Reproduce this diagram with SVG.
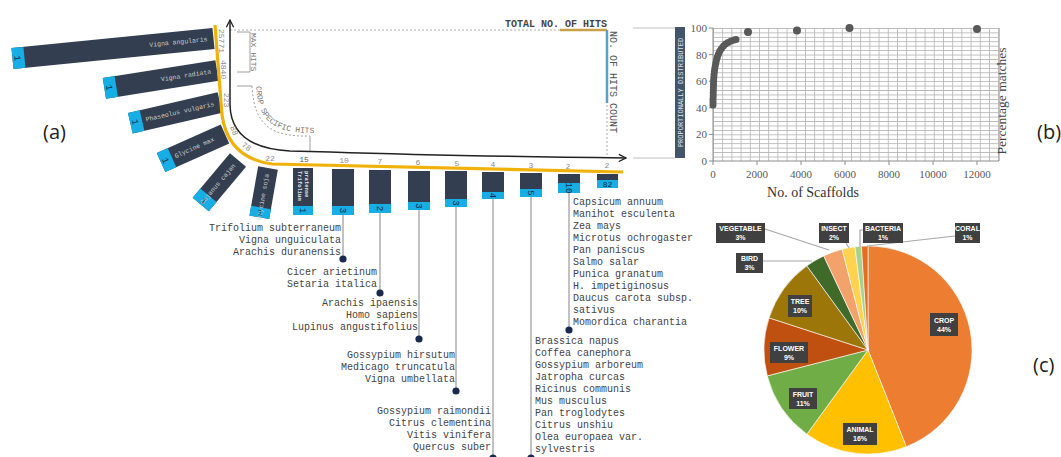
<svg xmlns="http://www.w3.org/2000/svg" width="1061" height="457" viewBox="0 0 1061 457">
<style>
.bar{fill:#333f50}
.cap{fill:#17aee6}
.bt{font-family:"Liberation Mono",monospace;font-size:6.5px;fill:#c9c9c9}
.ct{font-family:"Liberation Mono",monospace;font-size:9px;fill:#1b2a44;text-anchor:middle}
.num{font-family:"Liberation Mono",monospace;font-size:8px;fill:#8a8a8a;text-anchor:middle}
.sp{font-family:"Liberation Mono",monospace;font-size:10px;fill:#444}
.spr{font-family:"Liberation Mono",monospace;font-size:10px;fill:#444;text-anchor:end}
.lbl{font-family:"Liberation Mono",monospace;font-size:8px;fill:#777}
.lead{stroke:#9a9a9a;stroke-width:1.2;fill:none}
.dot{fill:#1a2a4f}
.ax{font-family:"Liberation Serif",serif;font-size:11px;fill:#595959}
.pt{fill:#595959}
.pl{fill:#404040}
.plt{font-family:"Liberation Sans",sans-serif;font-size:7px;font-weight:bold;fill:#fff;text-anchor:middle}
.pan{font-family:"Open Sans","Liberation Sans",sans-serif;font-size:20px;fill:#222}
.plead{stroke:#a6a6a6;stroke-width:1.2;fill:none}
</style>
<defs>
<marker id="arr" viewBox="0 0 10 10" refX="9" refY="5" markerWidth="9" markerHeight="9" markerUnits="userSpaceOnUse" orient="auto-start-reverse">
<path d="M1,1 L9,5 L1,9" fill="none" stroke="#222" stroke-width="1.4"/>
</marker>
<pattern id="grid" patternUnits="userSpaceOnUse" x="713" y="28" width="9.2" height="4.433">
<rect width="9.2" height="4.433" fill="#fff"/>
<path d="M0,0 H9.2 M0,0 V4.433" stroke="#b8b8b8" stroke-width="1.7"/>
</pattern>
<path id="cropPath" d="M256,86 C258,122 274,133 314,133"/>
</defs>
<rect width="1061" height="457" fill="#fff"/>

<!-- panel labels -->
<text class="pan" x="43" y="139">(a)</text>
<text class="pan" x="1037" y="139">(b)</text>
<text class="pan" x="1033" y="372">(c)</text>

<!-- fan bars -->
<g id="bar-vigna-angularis" transform="translate(213.5,38.5) rotate(-5.7)">
<rect class="bar" x="-202" y="-10.5" width="202" height="21"/>
<rect class="cap" x="-202" y="-10.5" width="12" height="21"/>
<text class="ct" transform="translate(-197,0) rotate(90)" y="3">1</text>
<text class="bt" x="-6" y="2" text-anchor="end">Vigna angularis</text>
</g>
<g id="bar-vigna-radiata" transform="translate(217,70.5) rotate(-9)">
<rect class="bar" x="-114" y="-10.5" width="114" height="21"/>
<rect class="cap" x="-114" y="-10.5" width="12" height="21"/>
<text class="ct" transform="translate(-109,0) rotate(90)" y="3">1</text>
<text class="bt" x="-6" y="2" text-anchor="end">Vigna radiata</text>
</g>
<g id="bar-phaseolus" transform="translate(220,102.5) rotate(-13)">
<rect class="bar" x="-92" y="-10.5" width="92" height="21"/>
<rect class="cap" x="-92" y="-10.5" width="12" height="21"/>
<text class="ct" transform="translate(-87,0) rotate(90)" y="3">1</text>
<text class="bt" x="-6" y="2" text-anchor="end">Phaseolus vulgaris</text>
</g>
<g id="bar-glycine-max" transform="translate(225,134) rotate(-24)">
<rect class="bar" x="-70" y="-10.5" width="70" height="21"/>
<rect class="cap" x="-70" y="-10.5" width="12" height="21"/>
<text class="ct" transform="translate(-65,0) rotate(90)" y="3">1</text>
<text class="bt" x="-12" y="2" text-anchor="end">Glycine max</text>
</g>
<g id="bar-cajanus" transform="translate(238,160) rotate(-50)">
<rect class="bar" x="-58" y="-10.5" width="58" height="21"/>
<rect class="cap" x="-58" y="-10.5" width="12" height="21"/>
<text class="ct" transform="translate(-53,0) rotate(90)" y="3">1</text>
<text class="bt" x="-6" y="2" text-anchor="end">Cajanus cajan</text>
</g>
<g id="bar-glycine-soja" transform="translate(268,168) rotate(-80)">
<rect class="bar" x="-50" y="-10" width="50" height="20"/>
<rect class="cap" x="-50" y="-10" width="10" height="20"/>
<text class="ct" transform="translate(-45,0) rotate(90)" y="3">1</text>
<text class="bt" x="-6" y="2" text-anchor="end">Glycine soja</text>
</g>
<g id="bar-trifolium-pratense">
<rect class="bar" x="293" y="168" width="20" height="38"/>
<rect class="cap" x="293" y="206" width="20" height="9"/>
<text class="ct" transform="translate(303,210.5) rotate(90)" y="3">1</text>
<text transform="translate(298,171) rotate(90)" style="font-family:'Liberation Mono',monospace;font-size:5.5px;font-weight:bold;fill:#e6e6e6">Trifolium</text>
<text transform="translate(305,171) rotate(90)" style="font-family:'Liberation Mono',monospace;font-size:5.5px;font-weight:bold;fill:#e6e6e6">pratense</text>
</g>

<!-- vertical bars -->
<g id="bar-10">
<rect class="bar" x="332" y="169" width="22" height="37"/><rect class="cap" x="332" y="206" width="22" height="9"/>
<text class="ct" transform="translate(343,210.5) rotate(90)" y="3">3</text></g>
<g id="bar-7">
<rect class="bar" x="369" y="170" width="22" height="34"/><rect class="cap" x="369" y="204" width="22" height="9"/>
<text class="ct" transform="translate(380,208.5) rotate(90)" y="3">2</text></g>
<g id="bar-6">
<rect class="bar" x="408" y="171" width="22" height="31"/><rect class="cap" x="408" y="202" width="22" height="8"/>
<text class="ct" transform="translate(419,206) rotate(90)" y="3">3</text></g>
<g id="bar-5">
<rect class="bar" x="445" y="171" width="22" height="28"/><rect class="cap" x="445" y="199" width="22" height="8"/>
<text class="ct" transform="translate(456,203) rotate(90)" y="3">3</text></g>
<g id="bar-4">
<rect class="bar" x="482" y="172" width="22" height="20"/><rect class="cap" x="482" y="192" width="22" height="7"/>
<text class="ct" transform="translate(493,195.5) rotate(90)" y="3">4</text></g>
<g id="bar-3">
<rect class="bar" x="520" y="173" width="22" height="16"/><rect class="cap" x="520" y="189" width="22" height="8"/>
<text class="ct" transform="translate(531,193) rotate(90)" y="3">5</text></g>
<g id="bar-2a">
<rect class="bar" x="558" y="174" width="22" height="9"/><rect class="cap" x="558" y="183" width="22" height="10"/>
<text class="ct" transform="translate(569,188) rotate(90)" y="3">10</text></g>
<g id="bar-2b">
<rect class="bar" x="597" y="174" width="21" height="6"/><rect class="cap" x="597" y="180" width="21" height="8"/>
<text class="ct" x="607.5" y="187" style="font-size:8px">82</text></g>

<!-- guides -->
<g id="guides" fill="none">
<path d="M230,30 H607 V158" stroke="#999" stroke-width="0.8" stroke-dasharray="2,2"/>
<path d="M560,30 H607" stroke="#c9a04a" stroke-width="2.5"/>
<path d="M607,30 V103" stroke="#5a9fc9" stroke-width="2.5"/>
<path d="M237,32 H250 V72 H237" stroke="#888" stroke-width="0.8"/>
<path d="M237,86 H252" stroke="#888" stroke-width="0.8"/>
<path d="M252,86 C254,126 272,137 310,136" stroke="#888" stroke-width="0.8" stroke-dasharray="2,2"/>
<path d="M310,136 V152" stroke="#888" stroke-width="0.8"/>
</g>
<text class="lbl" transform="translate(251,33) rotate(90)">MAX HITS</text>
<text class="lbl"><textPath href="#cropPath">CROP SPECIFIC HITS</textPath></text>
<text transform="translate(610,31) rotate(90)" style="font-family:'Liberation Mono',monospace;font-size:10px;fill:#555">NO. OF HITS COUNT</text>
<text x="607" y="27" text-anchor="end" style="font-family:'Liberation Mono',monospace;font-size:10px;fill:#444;font-weight:bold">TOTAL NO. OF HITS</text>

<!-- connectors -->
<g id="connectors">
<path d="M215,25 L222,115 Q228,158 272,164 L623,172" fill="none" stroke="#f0b10a" stroke-width="3.2"/>
<path d="M230,20 L230,105 Q231,148 290,151 L330,152 Q450,156 626,158" fill="none" stroke="#222" stroke-width="1.5" marker-start="url(#arr)" marker-end="url(#arr)"/>
<path class="lead" d="M343,215 V259 M380,213 V293 M419,210 V339 M456,207 V391 M493,199 V457 M531,197 V457 M569,193 V330"/>
<circle class="dot" cx="343" cy="259" r="3.6"/>
<circle class="dot" cx="380" cy="293" r="3.6"/>
<circle class="dot" cx="419" cy="339" r="3.6"/>
<circle class="dot" cx="456" cy="391" r="3.6"/>
<circle class="dot" cx="493" cy="458" r="3.6"/>
<circle class="dot" cx="531" cy="458" r="3.6"/>
<circle class="dot" cx="569" cy="330" r="3.6"/>
</g>

<!-- counts -->
<g id="counts">
<text class="num" transform="translate(219,29) rotate(90)" style="text-anchor:start">25771</text>
<text class="num" transform="translate(221,60) rotate(90)" style="text-anchor:start">4840</text>
<text class="num" transform="translate(224,93) rotate(90)" style="text-anchor:start">223</text>
<text class="num" transform="translate(230,127) rotate(70)" style="text-anchor:start">88</text>
<text class="num" transform="translate(241,146) rotate(35)" style="text-anchor:start">78</text>
<text class="num" x="270" y="161">22</text>
<text class="num" x="304" y="162" style="fill:#555">15</text>
<text class="num" x="344" y="163">10</text>
<text class="num" x="380" y="164">7</text>
<text class="num" x="418" y="165">6</text>
<text class="num" x="457" y="166">5</text>
<text class="num" x="493" y="167">4</text>
<text class="num" x="531" y="168">3</text>
<text class="num" x="568" y="169">2</text>
<text class="num" x="607" y="168">2</text>
</g>

<!-- species lists -->
<g id="list-10"><text class="spr" x="341" y="231">Trifolium subterraneum</text><text class="spr" x="341" y="243">Vigna unguiculata</text><text class="spr" x="341" y="255">Arachis duranensis</text></g>
<g id="list-7"><text class="spr" x="377" y="275">Cicer arietinum</text><text class="spr" x="377" y="287">Setaria italica</text></g>
<g id="list-6"><text class="spr" x="418" y="306">Arachis ipaensis</text><text class="spr" x="418" y="318">Homo sapiens</text><text class="spr" x="418" y="330">Lupinus angustifolius</text></g>
<g id="list-5"><text class="spr" x="455" y="358">Gossypium hirsutum</text><text class="spr" x="455" y="370">Medicago truncatula</text><text class="spr" x="455" y="382">Vigna umbellata</text></g>
<g id="list-4"><text class="spr" x="491" y="414">Gossypium raimondii</text><text class="spr" x="491" y="426">Citrus clementina</text><text class="spr" x="491" y="438">Vitis vinifera</text><text class="spr" x="491" y="450">Quercus suber</text></g>
<g id="list-3">
<text class="sp" x="535" y="344">Brassica napus</text><text class="sp" x="535" y="356">Coffea canephora</text><text class="sp" x="535" y="368">Gossypium arboreum</text><text class="sp" x="535" y="380">Jatropha curcas</text><text class="sp" x="535" y="392">Ricinus communis</text><text class="sp" x="535" y="404">Mus musculus</text><text class="sp" x="535" y="416">Pan troglodytes</text><text class="sp" x="535" y="428">Citrus unshiu</text><text class="sp" x="535" y="440">Olea europaea var.</text><text class="sp" x="535" y="452">sylvestris</text>
</g>
<g id="list-2">
<text class="sp" x="573" y="205">Capsicum annuum</text><text class="sp" x="573" y="217">Manihot esculenta</text><text class="sp" x="573" y="229">Zea mays</text><text class="sp" x="573" y="241">Microtus ochrogaster</text><text class="sp" x="573" y="253">Pan paniscus</text><text class="sp" x="573" y="265">Salmo salar</text><text class="sp" x="573" y="277">Punica granatum</text><text class="sp" x="573" y="289">H. impetiginosus</text><text class="sp" x="573" y="301">Daucus carota subsp.</text><text class="sp" x="573" y="313">sativus</text><text class="sp" x="573" y="325">Momordica charantia</text>
</g>

<!-- panel b -->
<g id="chart-b">
<path d="M633,28 H675 M633,158 H675" stroke="#c0c0c0" stroke-width="1"/>
<rect x="675" y="27" width="10" height="131" fill="#44546a"/>
<text transform="translate(682.5,92.5) rotate(-90)" text-anchor="middle" style="font-family:'Liberation Mono',monospace;font-size:7px;fill:#dfe3ea">PROPORTIONALLY DISTRIBUTED</text>
<rect x="713" y="28" width="286" height="133" fill="url(#grid)"/>
<path d="M999,28 V161" stroke="#b8b8b8" stroke-width="1.7"/>
<path d="M713,28 V161 H999" stroke="#8c8c8c" stroke-width="1" fill="none"/>
<path d="M709,28 H713 M709,54.6 H713 M709,81.2 H713 M709,107.8 H713 M709,134.4 H713 M709,161 H713 M713,161 V165 M757,161 V165 M801,161 V165 M845,161 V165 M889,161 V165 M933,161 V165 M977,161 V165" stroke="#8c8c8c" stroke-width="1"/>
<g class="ax" text-anchor="end">
<text x="707" y="32">100</text><text x="707" y="58.6">80</text><text x="707" y="85.2">60</text><text x="707" y="111.8">40</text><text x="707" y="138.4">20</text><text x="707" y="165">0</text>
</g>
<g class="ax" text-anchor="middle">
<text x="713" y="178">0</text><text x="757" y="178">2000</text><text x="801" y="178">4000</text><text x="845" y="178">6000</text><text x="889" y="178">8000</text><text x="933" y="178">10000</text><text x="977" y="178">12000</text>
</g>
<text x="813" y="197" text-anchor="middle" style="font-family:'Liberation Serif',serif;font-size:14px;fill:#333">No. of Scaffolds</text>
<text transform="translate(1006,101) rotate(-90)" text-anchor="middle" style="font-family:'Liberation Serif',serif;font-size:13.5px;fill:#444">Percentage matches</text>
<g class="pt">
<circle cx="713" cy="105" r="3.5"/><circle cx="713" cy="102" r="3.5"/><circle cx="713" cy="99" r="3.5"/><circle cx="713.2" cy="96" r="3.5"/><circle cx="713.2" cy="93" r="3.5"/><circle cx="713.3" cy="90" r="3.5"/><circle cx="713.4" cy="87" r="3.5"/><circle cx="713.5" cy="84" r="3.5"/><circle cx="713.6" cy="81" r="3.5"/><circle cx="713.8" cy="78" r="3.5"/><circle cx="714" cy="75" r="3.5"/><circle cx="714.3" cy="72" r="3.5"/><circle cx="714.7" cy="69" r="3.5"/><circle cx="715.2" cy="66" r="3.5"/><circle cx="715.8" cy="63" r="3.5"/><circle cx="716.5" cy="60" r="3.5"/><circle cx="717.4" cy="57" r="3.5"/><circle cx="718.5" cy="54" r="3.5"/><circle cx="719.8" cy="51" r="3.5"/><circle cx="721.5" cy="48.5" r="3.5"/><circle cx="723.5" cy="46" r="3.5"/><circle cx="725.5" cy="44" r="3.5"/><circle cx="728" cy="42.5" r="3.5"/><circle cx="731" cy="41" r="3.5"/><circle cx="734" cy="40" r="3.5"/><circle cx="736" cy="39.5" r="3.5"/>
<circle cx="748" cy="32" r="4"/><circle cx="797" cy="30.5" r="4"/><circle cx="849.5" cy="28" r="4"/><circle cx="977" cy="29" r="4"/>
</g>
</g>

<!-- panel c pie -->
<g id="pie-c" stroke="#fff" stroke-width="0.6">
<path d="M868,350 L868,246 A104,104 0 0,1 906.28,446.70 Z" fill="#ed7d31"/>
<path d="M868,350 L906.28,446.70 A104,104 0 0,1 806.87,434.14 Z" fill="#ffc000"/>
<path d="M868,350 L806.87,434.14 A104,104 0 0,1 767.27,375.87 Z" fill="#70ad47"/>
<path d="M868,350 L767.27,375.87 A104,104 0 0,1 769.09,317.86 Z" fill="#c0500f"/>
<path d="M868,350 L769.09,317.86 A104,104 0 0,1 806.87,265.86 Z" fill="#9c7608"/>
<path d="M868,350 L806.87,265.86 A104,104 0 0,1 823.72,255.90 Z" fill="#3f6a2a"/>
<path d="M868,350 L823.72,255.90 A104,104 0 0,1 842.13,249.27 Z" fill="#f4a26b"/>
<path d="M868,350 L842.13,249.27 A104,104 0 0,1 854.97,246.82 Z" fill="#ffd34d"/>
<path d="M868,350 L854.97,246.82 A104,104 0 0,1 861.47,246.21 Z" fill="#a9d18e"/>
<path d="M868,350 L861.47,246.21 A104,104 0 0,1 868,246 Z" fill="#e46c25"/>
</g>
<g id="pie-leaders">
<path class="plead" d="M763,261 H812"/>
<path class="plead" d="M765,229 L829,250"/>
<path class="plead" d="M846,243 L849,248"/>
<path class="plead" d="M863,230 H860 V247"/>
<path class="plead" d="M955,236 L867,246"/>
</g>
<g id="lab-crop"><rect class="pl" x="930" y="313" width="28" height="23"/><text class="plt" x="944" y="323">CROP</text><text class="plt" x="944" y="332">44%</text></g>
<g id="lab-animal"><rect class="pl" x="843" y="423" width="34" height="22"/><text class="plt" x="860" y="432">ANIMAL</text><text class="plt" x="860" y="441">16%</text></g>
<g id="lab-fruit"><rect class="pl" x="789" y="388" width="28" height="21"/><text class="plt" x="803" y="397">FRUIT</text><text class="plt" x="803" y="406">11%</text></g>
<g id="lab-flower"><rect class="pl" x="770" y="342" width="38" height="21"/><text class="plt" x="789" y="351">FLOWER</text><text class="plt" x="789" y="360">9%</text></g>
<g id="lab-tree"><rect class="pl" x="788" y="295" width="24" height="22"/><text class="plt" x="800" y="304">TREE</text><text class="plt" x="800" y="313">10%</text></g>
<g id="lab-bird"><rect class="pl" x="736" y="253" width="27" height="20"/><text class="plt" x="749.5" y="261">BIRD</text><text class="plt" x="749.5" y="270">3%</text></g>
<g id="lab-vegetable"><rect class="pl" x="716" y="223" width="49" height="20"/><text class="plt" x="740.5" y="231">VEGETABLE</text><text class="plt" x="740.5" y="240">3%</text></g>
<g id="lab-insect"><rect class="pl" x="819" y="223" width="30" height="20"/><text class="plt" x="834" y="231">INSECT</text><text class="plt" x="834" y="240">2%</text></g>
<g id="lab-bacteria"><rect class="pl" x="863" y="223" width="40" height="20"/><text class="plt" x="883" y="231">BACTERIA</text><text class="plt" x="883" y="240">1%</text></g>
<g id="lab-coral"><rect class="pl" x="955" y="223" width="25" height="20"/><text class="plt" x="967.5" y="231">CORAL</text><text class="plt" x="967.5" y="240">1%</text></g>
</svg>
